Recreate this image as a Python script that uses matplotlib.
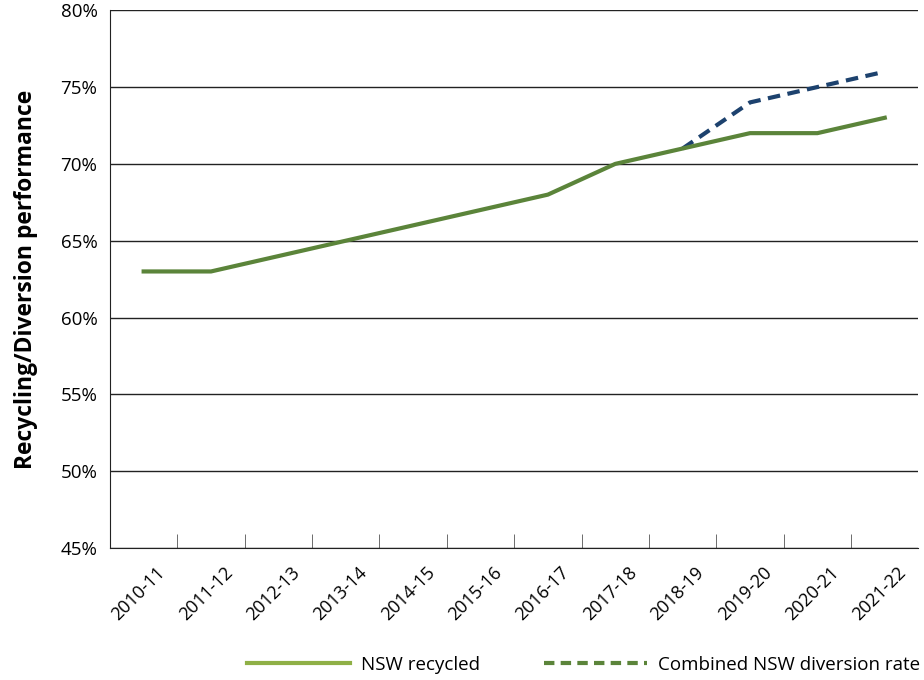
import matplotlib.pyplot as plt
from matplotlib.lines import Line2D
from matplotlib.ticker import FuncFormatter, MultipleLocator
from matplotlib.transforms import ScaledTranslation

# financial years
years = ['2010-11', '2011-12', '2012-13', '2013-14', '2014-15', '2015-16',
         '2016-17', '2017-18', '2018-19', '2019-20', '2020-21', '2021-22']
# percentages
recycled = [63, 63, 64, 65, 66, 67, 68, 70, 71, 72, 72, 73]
diversion_years = ['2018-19', '2019-20', '2020-21', '2021-22']
diversion = [71, 74, 75, 76]

green = '#5b843a'
navy = '#1d426e'
light_green = '#8fb046'

plt.rcParams['font.family'] = ['Open Sans', 'DejaVu Sans']

fig = plt.figure(figsize=(9.24, 6.8), dpi=100)
ax = fig.add_axes([0.119, 0.194, 0.875, 0.791])

x = list(range(len(years)))
dx = [years.index(y) for y in diversion_years]

ax.plot(dx, diversion, color=navy, lw=3, ls=(0, (3, 1.8)), zorder=3)
ax.plot(x, recycled, color=green, lw=3, zorder=4)

ax.set_xlim(-0.5, len(years) - 0.5)
ax.set_ylim(45, 80)
ax.yaxis.set_major_locator(MultipleLocator(5))
ax.yaxis.set_major_formatter(FuncFormatter(lambda v, p: '%d%%' % v))
ax.grid(axis='y', color='#222222', lw=1)
ax.set_axisbelow(True)

ax.set_xticks(x)
ax.set_xticklabels(years, rotation=45, ha='center', fontsize=13)
ax.tick_params(axis='x', which='major', length=0, pad=11)
# nudge labels a little to the left
shift = ScaledTranslation(-5 / 100, 0, fig.dpi_scale_trans)
for lbl in ax.get_xticklabels():
    lbl.set_transform(lbl.get_transform() + shift)
ax.set_xticks([i + 0.5 for i in x[:-1]], minor=True)
ax.tick_params(axis='x', which='minor', direction='in', length=10, color='#555555')
ax.tick_params(axis='y', length=0, labelsize=13.5, pad=9)

for s in ['top', 'right']:
    ax.spines[s].set_visible(False)
ax.spines['left'].set_color('#222222')
ax.spines['bottom'].set_color('#222222')

ax.set_ylabel('Recycling/Diversion performance', fontsize=16.5, fontweight='bold', labelpad=16)

handles = [Line2D([], [], color=light_green, lw=3),
           Line2D([], [], color=green, lw=3, ls=(0, (2.5, 1.5)))]
fig.legend(handles, ['NSW recycled', 'Combined NSW diversion rate'],
           loc='lower center', bbox_to_anchor=(0.6315, -0.016), ncol=2,
           frameon=False, fontsize=13.5, handlelength=5.5, handletextpad=0.55,
           columnspacing=3.45)

fig.savefig('out.png', dpi=100)
